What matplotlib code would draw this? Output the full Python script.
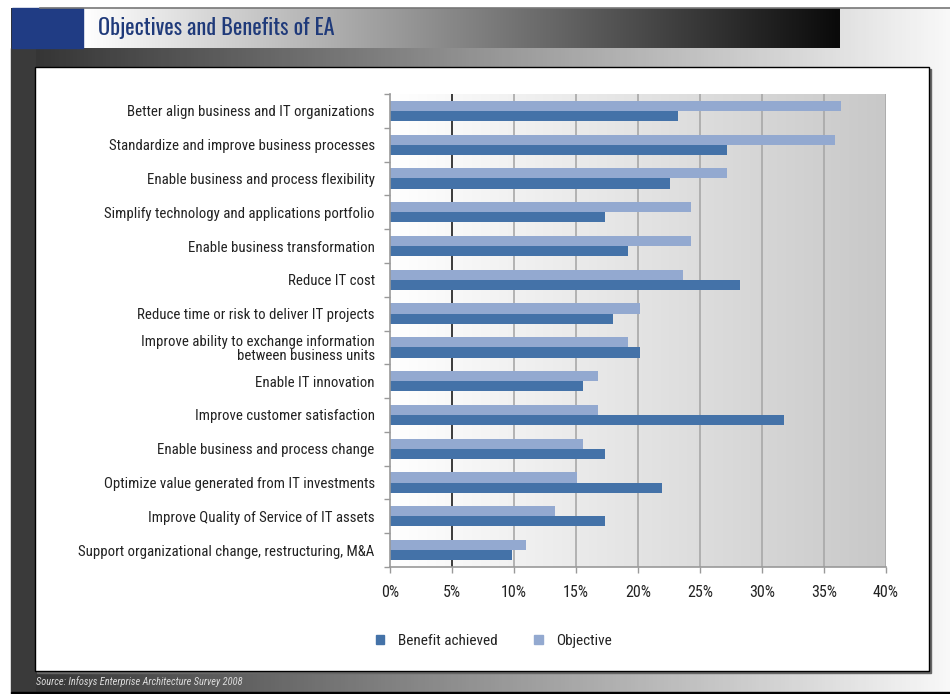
import matplotlib
matplotlib.use("Agg")
import matplotlib.pyplot as plt
import numpy as np
from matplotlib.colors import LinearSegmentedColormap
from matplotlib.patches import Rectangle, Patch
from matplotlib.ticker import FixedLocator, FuncFormatter

NARROW = ["Roboto Condensed", "Archivo Narrow", "IBM Plex Sans Condensed", "DejaVu Sans"]
TITLE_FONT = ["Oswald", "Roboto Condensed", "IBM Plex Sans Condensed", "DejaVu Sans"]
plt.rcParams["font.family"] = NARROW

# data (percent of respondents), top to bottom
categories = [
    "Better align business and IT organizations",
    "Standardize and improve business processes",
    "Enable business and process flexibility",
    "Simplify technology and applications portfolio",
    "Enable business transformation",
    "Reduce IT cost",
    "Reduce time or risk to deliver IT projects",
    "Improve ability to exchange information\nbetween business units",
    "Enable IT innovation",
    "Improve customer satisfaction",
    "Enable business and process change",
    "Optimize value generated from IT investments",
    "Improve Quality of Service of IT assets",
    "Support organizational change, restructuring, M&A",
]
objective = [36.4, 35.9, 27.2, 24.3, 24.3, 23.6, 20.2, 19.2, 16.8, 16.8, 15.6, 15.1, 13.3, 11.0]
benefit = [23.2, 27.2, 22.6, 17.3, 19.2, 28.2, 18.0, 20.2, 15.6, 31.8, 17.3, 21.9, 17.3, 9.8]
x_ticks = [0, 5, 10, 15, 20, 25, 30, 35, 40]

BENEFIT_COLOR = "#4472a8"
OBJECTIVE_COLOR = "#93a9d0"
TEXT_COLOR = "#222222"

W, H = 950, 694
fig = plt.figure(figsize=(W / 100, H / 100), dpi=100)

# ---- page decoration (pixel coordinates) ----
bg = fig.add_axes([0, 0, 1, 1], zorder=0)
bg.set_xlim(0, W)
bg.set_ylim(H, 0)
bg.axis("off")

ramp = np.linspace(0, 1, 256).reshape(1, -1)
page_cmap = LinearSegmentedColormap.from_list("page", ["#303030", "#f8f8f8"])
title_cmap = LinearSegmentedColormap.from_list("title", ["#ffffff", "#0a0a0a"])

bg.imshow(ramp, cmap=page_cmap, extent=[11, W, 692, 8], aspect="auto", zorder=1)
bg.add_patch(Rectangle((11, 48), 24, 644, color="#3a3a3a", zorder=2))
bg.imshow(ramp, cmap=title_cmap, extent=[83, 840, 48, 8], aspect="auto", zorder=2)
bg.add_patch(Rectangle((12, 8), 71, 40, color="#203c84", zorder=3))
bg.plot([40, W], [7.5, 7.5], color="#777777", lw=1.2, zorder=3)
bg.add_patch(Rectangle((11, 692), W - 11, 2, color="#000000", zorder=3))
bg.text(98, 28, "Objectives and Benefits of EA", color="#1f3a7a", fontsize=16,
        family=TITLE_FONT, fontweight="medium", ha="left", va="center", zorder=4)

# white panel with a small shadow
bg.add_patch(Rectangle((37, 69), 894, 604, color="#666666", zorder=3))
bg.add_patch(Rectangle((35, 67), 894, 604, facecolor="white", edgecolor="black", lw=1, zorder=4))
bg.text(36, 682, "Source: Infosys Enterprise Architecture Survey 2008", color="#dcdcdc",
        fontsize=7.5, style="italic", ha="left", va="center", zorder=4)

# ---- chart ----
ax = fig.add_axes([390 / W, 1 - 567 / H, 496 / W, 473 / H], zorder=1)
ax.patch.set_visible(False)

n = len(categories)
pos = np.arange(n)
bar_h = 0.3

grad_cmap = LinearSegmentedColormap.from_list("plotbg", ["#ffffff", "#c8c8c8"])
ax.imshow(ramp, cmap=grad_cmap, extent=[0, 40, n - 0.5, -0.5], aspect="auto", zorder=0)

for t in x_ticks[1:]:
    ax.axvline(t, color="#1a1a1a" if t == 5 else "#a8a8a8", lw=1.2, zorder=1)

ax.barh(pos - bar_h / 2, objective, height=bar_h, color=OBJECTIVE_COLOR, zorder=2)
ax.barh(pos + bar_h / 2, benefit, height=bar_h, color=BENEFIT_COLOR, zorder=2)

ax.set_xlim(0, 40)
ax.set_ylim(n - 0.5, -0.5)

ax.set_yticks(pos)
ax.set_yticklabels(categories, fontsize=10.7, color=TEXT_COLOR, linespacing=1.0)
ax.yaxis.set_minor_locator(FixedLocator(np.arange(-0.5, n, 1.0)))
ax.tick_params(axis="y", which="major", length=0, pad=11)
ax.tick_params(axis="y", which="minor", length=4, color="#999999", width=1)

ax.set_xticks(x_ticks)
ax.xaxis.set_major_formatter(FuncFormatter(lambda v, p: f"{int(v)}%"))
ax.tick_params(axis="x", length=4, color="#999999", width=1, pad=9,
               labelsize=11.5, labelcolor=TEXT_COLOR)

for side in ["top", "right"]:
    ax.spines[side].set_visible(False)
for side in ["left", "bottom"]:
    ax.spines[side].set_color("#999999")
    ax.spines[side].set_linewidth(1.2)

handles = [Patch(color=BENEFIT_COLOR, label="Benefit achieved"),
           Patch(color=OBJECTIVE_COLOR, label="Objective")]
leg = fig.legend(handles=handles, loc="center", bbox_to_anchor=(494 / W, 1 - 641 / H),
                 ncol=2, frameon=False, fontsize=11, handlelength=0.55, handleheight=0.55,
                 handletextpad=0.9, columnspacing=2.4)
for t in leg.get_texts():
    t.set_color(TEXT_COLOR)
leg.set_zorder(10)

fig.savefig("out.png", dpi=100)
